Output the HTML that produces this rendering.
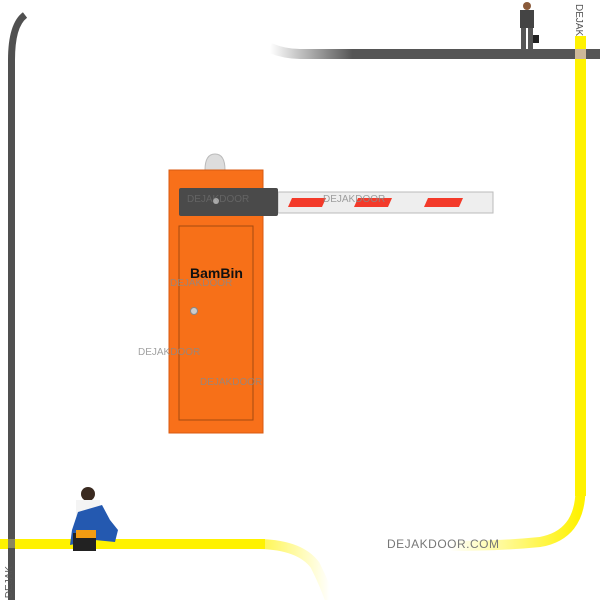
<!DOCTYPE html>
<html><head><style>
body{margin:0;width:600px;height:600px;background:#fff;position:relative;overflow:hidden;font-family:"Liberation Sans",sans-serif}
div{position:absolute}
.wm{color:#8a8a8a;font-size:10px;opacity:.8}
</style></head><body>
<svg width="600" height="600" style="position:absolute;left:0;top:0">
<defs>
<linearGradient id="gtop" x1="0" x2="1"><stop offset="0" stop-color="#555" stop-opacity="0"/><stop offset="0.25" stop-color="#555"/></linearGradient>
<linearGradient id="ybot" x1="0" x2="1"><stop offset="0" stop-color="#fff200"/><stop offset="1" stop-color="#fff200" stop-opacity="0"/></linearGradient>
<linearGradient id="yr" x1="1" x2="0"><stop offset="0" stop-color="#fff200"/><stop offset="1" stop-color="#fff200" stop-opacity="0"/></linearGradient>
</defs>
<path d="M11.5 600 V60 Q11.5 25 25 15" stroke="#505050" stroke-width="7" fill="none"/>
<path d="M270 48 Q285 54 300 54 H600" stroke="url(#gtop)" stroke-width="10" fill="none"/>
<rect x="575" y="36" width="11" height="460" fill="#fff200"/>
<path d="M580.5 490 Q580 535 540 542 Q500 546 450 546" stroke="url(#yr)" stroke-width="10" fill="none"/>
<rect x="0" y="539" width="265" height="10" fill="#fff200"/>
<path d="M260 544 Q300 545 315 565 Q325 585 330 600" stroke="url(#ybot)" stroke-width="10" fill="none" opacity=".7"/>
<rect x="575" y="49" width="11" height="10" fill="#cdb898"/>
<rect x="8" y="539" width="7" height="10" fill="#8a8760"/>
<rect x="8" y="548" width="7" height="22" fill="#505050"/>
<path d="M205 170 Q205 154 215 154 Q225 154 225 170Z" fill="#ddd" stroke="#bbb"/>
<rect x="169" y="170" width="94" height="263" fill="#f8701a" stroke="#d85a10"/>
<rect x="179" y="226" width="74" height="194" fill="#f77018" stroke="#a34a10"/>
<rect x="278" y="192" width="215" height="21" fill="#eee" stroke="#bbb"/>
<polygon points="292,198 326,198 322,207 288,207" fill="#f33a2a"/>
<polygon points="358,198 392,198 388,207 354,207" fill="#f33a2a"/>
<polygon points="428,198 463,198 459,207 424,207" fill="#f33a2a"/>
<rect x="179" y="188" width="99" height="28" rx="2" fill="#4a4a4a"/>
<circle cx="216" cy="201" r="3" fill="#aaa"/>
<circle cx="194" cy="311" r="3.5" fill="#ccc" stroke="#888"/>
<circle cx="527" cy="6" r="4" fill="#8a5a3a"/>
<rect x="520" y="10" width="14" height="18" fill="#444"/>
<rect x="521" y="28" width="5" height="30" fill="#555"/>
<rect x="528" y="28" width="5" height="30" fill="#555"/>
<rect x="533" y="35" width="6" height="8" fill="#222"/>
<circle cx="88" cy="494" r="7" fill="#3a2a20"/>
<rect x="76" y="500" width="24" height="16" fill="#f4f4f4"/>
<path d="M78 512 L102 505 L110 520 L118 530 L115 542 L95 540 L70 545 L72 530Z" fill="#2459b0"/>
<rect x="73" y="533" width="23" height="18" fill="#222"/>
<rect x="76" y="530" width="20" height="8" fill="#f39c12"/>
</svg>
<div style="left:190px;top:265px;font-size:14px;font-weight:bold;color:#111">BamBin</div>
<div class="wm" style="left:170px;top:278px">DEJAKDOOR</div>
<div class="wm" style="left:138px;top:347px">DEJAKDOOR</div>
<div class="wm" style="left:200px;top:377px">DEJAKDOOR</div>
<div class="wm" style="left:323px;top:194px">DEJAKDOOR</div>
<div class="wm" style="left:187px;top:194px;opacity:.4">DEJAKDOOR</div>
<div style="left:387px;top:537px;font-size:12px;color:#777;letter-spacing:.5px">DEJAKDOOR.COM</div>
<div style="left:573px;top:4px;font-size:10px;color:#555;writing-mode:vertical-rl">DEJAK</div>
<div style="left:4px;top:566px;font-size:10px;color:#555;writing-mode:vertical-rl;transform:rotate(180deg)">DEJAK</div>
</body></html>
